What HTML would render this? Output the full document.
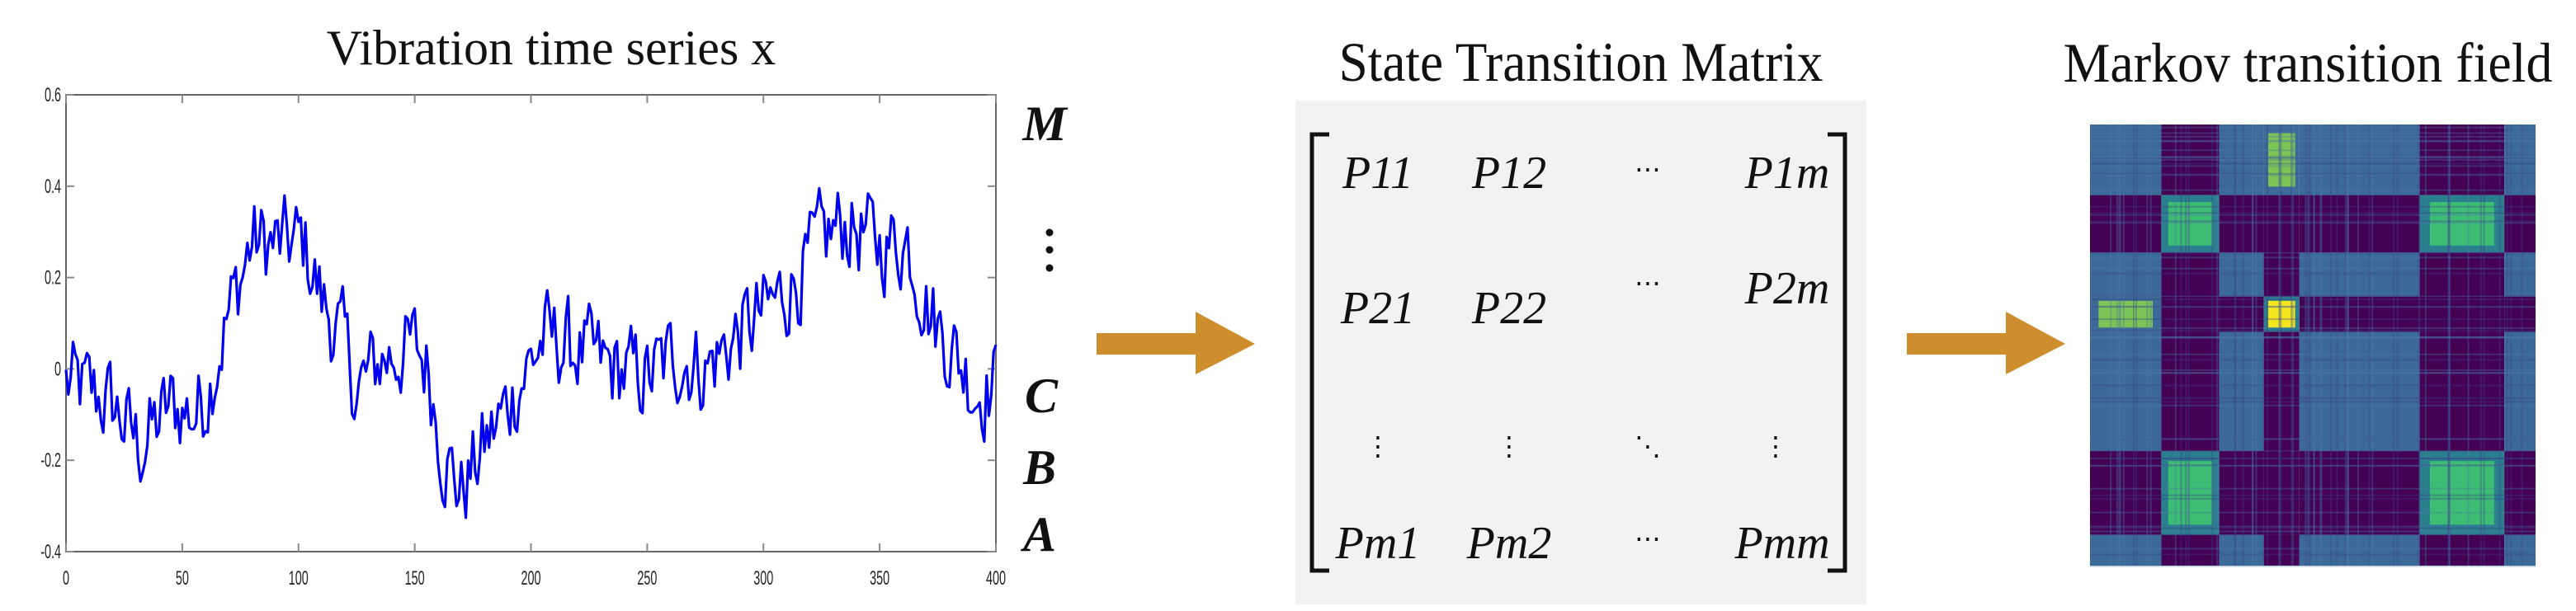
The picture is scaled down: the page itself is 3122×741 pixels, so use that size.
<!DOCTYPE html>
<html><head><meta charset="utf-8"><style>
html,body{margin:0;padding:0;background:#fff;}
body{width:3122px;height:741px;position:relative;overflow:hidden;font-family:"Liberation Serif",serif;}
</style></head><body>
<svg width="3122" height="741" style="position:absolute;left:0;top:0">
<text x="668" y="78" font-family="Liberation Serif" font-size="60" text-anchor="middle" fill="#111">Vibration time series x</text>
<rect x="80" y="115" width="1127" height="554" fill="#fff" stroke="#666" stroke-width="2"/>
<g id="ticks" stroke="#888" stroke-width="2"></g>
<g id="tl" font-family="Liberation Sans" font-size="24" fill="#222"></g>
<polyline id="sig" fill="none" stroke="#0000ee" stroke-width="3.2" stroke-linejoin="round" points=""/>
<g font-family="Liberation Serif" font-style="italic" font-weight="bold" font-size="60" fill="#111" text-anchor="middle">
<text x="1266" y="170">M</text>
<text x="1262" y="500">C</text>
<text x="1260" y="587">B</text>
<text x="1260" y="668">A</text>
</g>
<circle cx="1272" cy="282" r="4.5" fill="#111"/>
<circle cx="1272" cy="303" r="4.5" fill="#111"/>
<circle cx="1272" cy="325" r="4.5" fill="#111"/>
<polygon points="1329,404 1449,404 1449,378 1521,417 1449,454 1449,430 1329,430" fill="#cf8e2e"/>
<rect x="1570" y="122" width="692" height="611" fill="#f2f2f2"/>
<text x="1916" y="98" font-family="Liberation Serif" font-size="68" text-anchor="middle" fill="#111" transform="translate(1916 0) scale(0.93 1) translate(-1916 0)">State Transition Matrix</text>
<path d="M1611,163 L1590,163 L1590,692 L1611,692" fill="none" stroke="#111" stroke-width="5"/>
<path d="M2215,163 L2236,163 L2236,692 L2215,692" fill="none" stroke="#111" stroke-width="5"/>
<g font-family="Liberation Serif" font-style="italic" font-size="56" fill="#111" text-anchor="middle">
<text x="1670" y="228">P11</text>
<text x="1829" y="228">P12</text>
<text x="2166" y="228">P1m</text>
<text x="1670" y="392">P21</text>
<text x="1829" y="392">P22</text>
<text x="2166" y="368">P2m</text>
<text x="1670" y="677">Pm1</text>
<text x="1829" y="677">Pm2</text>
<text x="2160" y="677">Pmm</text>
</g>
<g font-family="DejaVu Sans" font-size="32" fill="#111" text-anchor="middle">
<text x="1997" y="216">⋯</text>
<text x="1997" y="354">⋯</text>
<text x="1997" y="664">⋯</text>
<text x="1670" y="552">⋮</text>
<text x="1829" y="552">⋮</text>
<text x="1997" y="552">⋱</text>
<text x="2152" y="552">⋮</text>
</g>
<polygon points="2311,404 2431,404 2431,378 2503,417 2431,454 2431,430 2311,430" fill="#cf8e2e"/>
<text x="2797" y="99" font-family="Liberation Serif" font-size="68" text-anchor="middle" fill="#111" transform="translate(2797 0) scale(0.94 1) translate(-2797 0)">Markov  transition field</text>
<g id="hm"></g>
</svg>
<script>
(function(){
var NS="http://www.w3.org/2000/svg";
function el(t,a,p){var e=document.createElementNS(NS,t);for(var k in a)e.setAttribute(k,a[k]);p.appendChild(e);return e;}
var X0=80,Y0=115,W=1127,H=554;
var tk=document.getElementById('ticks'),tl=document.getElementById('tl');
for(var i=0;i<=8;i++){var x=X0+i*W/8;
 el('line',{x1:x,y1:Y0+H,x2:x,y2:Y0+H-10},tk);el('line',{x1:x,y1:Y0,x2:x,y2:Y0+10},tk);
 var t=el('text',{x:x,y:709,'text-anchor':'middle',transform:'translate('+x+' 0) scale(0.6 1) translate('+(-x)+' 0)'},tl);t.textContent=String(i*50);}
var yl=['0.6','0.4','0.2','0','-0.2','-0.4'];
for(var j=0;j<6;j++){var y=Y0+j*H/5;
 el('line',{x1:X0,y1:y,x2:X0+10,y2:y},tk);el('line',{x1:X0+W,y1:y,x2:X0+W-10,y2:y},tk);
 var t2=el('text',{x:74,y:y+8,'text-anchor':'end',transform:'translate(74 0) scale(0.6 1) translate(-74 0)'},tl);t2.textContent=yl[j];}
var kp=[[0,-0.03],[10,-0.05],[20,-0.08],[32,-0.17],[45,-0.08],[55,-0.1],[60,-0.06],[70,0.12],[80,0.28],[92,0.27],[102,0.28],[110,0.15],[120,0.05],[125,-0.05],[135,0.02],[150,0.05],[156,0.0],[162,-0.18],[170,-0.27],[180,-0.17],[190,-0.08],[198,0.0],[206,0.07],[220,0.04],[235,0.0],[250,-0.02],[262,0.03],[275,0.0],[290,0.08],[300,0.12],[315,0.2],[325,0.28],[335,0.32],[350,0.27],[362,0.28],[372,0.12],[383,0.03],[392,-0.05],[400,-0.03]];
var s=12345;function rnd(){s=(s*1103515245+12345)&0x7fffffff;return s/0x7fffffff;}
function env(i){for(var k=0;k<kp.length-1;k++){if(i>=kp[k][0]&&i<=kp[k+1][0]){var f=(i-kp[k][0])/(kp[k+1][0]-kp[k][0]);return kp[k][1]+f*(kp[k+1][1]-kp[k][1]);}}return 0;}
var pts=[],n=0;
for(var i=0;i<=400;i++){n=0.4*n+(rnd()-0.5)*0.18;var v=env(i)+n;pts.push((X0+i*W/400).toFixed(1)+','+(Y0+(0.6-v)*H).toFixed(1));}
document.getElementById('sig').setAttribute('points',pts.join(' '));
var hm=document.getElementById('hm');
var HX=2533,HY=151,HW=540,HH=535;
var bands=[[0,0.16,'L'],[0.16,0.29,'H'],[0.29,0.39,'M'],[0.39,0.47,'V'],[0.47,0.74,'M'],[0.74,0.93,'H'],[0.93,1,'M']];
var B='#3b6a98',P='#440154',G='#3dbc74',Y='#f4e61e',D='#3b3f86';
function col(r,c){
 if(r=='H'&&c=='H')return G;
 if(r=='V'&&c=='V')return Y;
 if((r=='V'&&c=='L')||(r=='L'&&c=='V'))return '#7ac555';
 if(r=='H'||c=='H')return P;
 if(r=='V'||c=='V')return P;
 return B;}
for(var a=0;a<bands.length;a++)for(var b=0;b<bands.length;b++){
 var R=bands[a],C=bands[b];var c=col(R[2],C[2]);
 var x=HX+C[0]*HW,y=HY+R[0]*HH,w=(C[1]-C[0])*HW,h=(R[1]-R[0])*HH;
 if(c==G||c==Y||c=='#7ac555'){el('rect',{x:x,y:y,width:w,height:h,fill:(R[2]=='L'||C[2]=='L')&&c!=Y?B:'#2a7f8e'},hm);
  el('rect',{x:x+w*0.12,y:y+h*0.12,width:w*0.76,height:h*0.76,fill:c},hm);}
 else el('rect',{x:x,y:y,width:w,height:h,fill:c},hm);}
s=777;
for(var i=0;i<60;i++){var x=HX+rnd()*HW;el('rect',{x:x,y:HY,width:2,height:HH,fill:rnd()<0.5?D:'#4a78a5',opacity:0.35},hm);}
for(var i=0;i<60;i++){var y=HY+rnd()*HH;el('rect',{x:HX,y:y,width:HW,height:2,fill:rnd()<0.5?D:'#4a78a5',opacity:0.35},hm);}
})();
</script>
</body></html>
